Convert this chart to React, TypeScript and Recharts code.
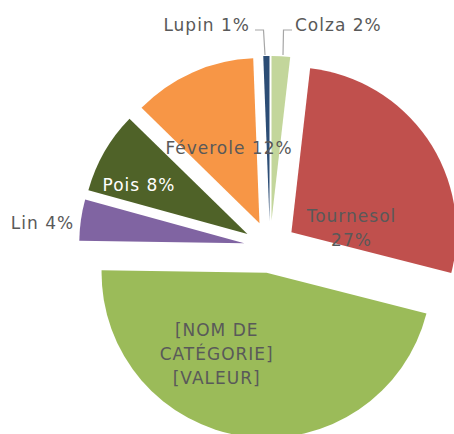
import React from 'react';
import { PieChart, Pie, Cell, Sector } from 'recharts';

const categories = ['Colza', 'Tournesol', '[NOM DE CATÉGORIE]', 'Lin', 'Pois', 'Féverole', 'Lupin'];
const values = [1.8, 27, 46, 4, 8, 12, 0.6];
const colors = ['#C3D69B', '#C0504D', '#9BBB59', '#8064A2', '#4F6228', '#F79646', '#2C4D75'];

const data = categories.map((name, i) => ({ name, value: values[i] }));

const W = 454;
const H = 434;
const CX = 270;
const CY = 247;
const R = 165;
const EXPLODE = 26;
const RADIAN = Math.PI / 180;
const TEXT = '#595959';
const FONT = '"DejaVu Sans", sans-serif';

type LabelCfg = {
  dx: number;
  dy: number;
  anchor: 'start' | 'middle' | 'end';
  lines?: string[];
  color?: string;
  leader?: [number, number][];
};

const labelLayout: Record<number, LabelCfg> = {
  0: { dx: 25, dy: -216.3, anchor: 'start', leader: [[13, -192], [13.5, -217], [22, -217]] },
  1: { dx: 81.5, dy: -25.3, anchor: 'middle', lines: ['Tournesol', '27%'] },
  2: { dx: -53.3, dy: 89, anchor: 'middle', lines: ['[NOM DE', 'CATÉGORIE]', '[VALEUR]'] },
  3: { dx: -227.5, dy: -17.7, anchor: 'middle' },
  4: { dx: -131, dy: -56.3, anchor: 'middle', color: '#FFFFFF' },
  5: { dx: -41, dy: -93, anchor: 'middle' },
  6: { dx: -20, dy: -216.3, anchor: 'end', leader: [[-5, -192], [-6.5, -217], [-15, -217]] },
};

const ExplodedSector = (props: any) => {
  const { cx, cy, midAngle } = props;
  const dx = EXPLODE * Math.cos(-midAngle * RADIAN);
  const dy = EXPLODE * Math.sin(-midAngle * RADIAN);
  return <Sector {...props} cx={cx + dx} cy={cy + dy} />;
};

const renderLabel = (props: any) => {
  const { index, name, percent } = props;
  const cx = typeof props.cx === 'number' ? props.cx : CX;
  const cy = typeof props.cy === 'number' ? props.cy : CY;
  const cfg = labelLayout[index];
  if (!cfg) return null;
  const lines = cfg.lines ?? [`${name} ${Math.max(1, Math.round(percent * 100))}%`];
  const x = cx + cfg.dx;
  const y = cy + cfg.dy;
  return (
    <g>
      {cfg.leader && (
        <polyline
          points={cfg.leader.map(([a, b]) => `${cx + a},${cy + b}`).join(' ')}
          fill="none"
          stroke="#A6A6A6"
          strokeWidth={1.2}
        />
      )}
      <text
        x={x}
        y={y}
        textAnchor={cfg.anchor}
        fill={cfg.color ?? TEXT}
        fontFamily={FONT}
        fontSize={17}
        letterSpacing={1}
      >
        {lines.map((l, i) => (
          <tspan key={i} x={x} dy={i === 0 ? 0 : 24}>
            {l}
          </tspan>
        ))}
      </text>
    </g>
  );
};

export default function App() {
  return (
    <div style={{ position: 'absolute', left: 0, top: 0, width: W, height: H, background: '#fff' }}>
      <PieChart width={W} height={H} margin={{ top: 0, right: 0, bottom: 0, left: 0 }}>
        <Pie
          data={data}
          dataKey="value"
          nameKey="name"
          cx={CX}
          cy={CY}
          outerRadius={R}
          startAngle={90}
          endAngle={-270}
          stroke="none"
          isAnimationActive={false}
          shape={ExplodedSector}
          label={renderLabel}
          labelLine={false}
        >
          {data.map((d, i) => (
            <Cell key={d.name} fill={colors[i]} />
          ))}
        </Pie>
      </PieChart>
    </div>
  );
}
